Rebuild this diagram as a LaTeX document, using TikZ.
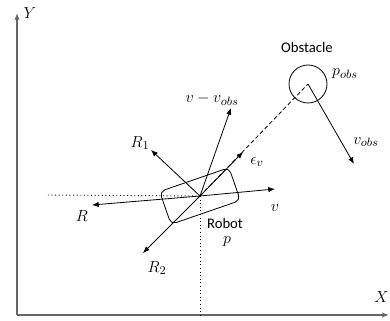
\documentclass[tikz,border=0pt]{standalone}
\usepackage{fontspec}
\setmainfont{Carlito}
\usetikzlibrary{arrows.meta}
\begin{document}
\begin{tikzpicture}[x=0.75pt,y=-0.75pt,line width=0.6pt,
  font=\fontsize{11}{13}\selectfont,
  vec/.style={-{Latex[length=5pt,width=4pt]}},
  axis/.style={black!60,line width=1pt,-{Latex[length=5pt,width=4pt]}},
  guide/.style={dotted,line width=0.7pt},
  mlab/.style={font=\fontsize{12.5}{14}\selectfont}]
  \useasboundingbox (0,0) rectangle (390,321);
  % Axes
  \coordinate (o) at (17,315);
  \coordinate (xend) at (389,315);
  \coordinate (yend) at (17,13);
  \draw[axis] (o) -- (yend);
  \draw[axis] (o) -- (xend);
  \node[mlab] (ylab) at (30,13) {$Y$};
  \node[mlab,anchor=east,inner sep=0] (xlab) at (389,297) {$X$};
  % Robot
  \coordinate (p) at (200,196);
  \node[draw,rounded corners=4pt,rotate=19,minimum width=55pt,minimum height=26pt] (robot) at (p) {};
  \node (robotlab) at (225,223) {Robot};
  \node[mlab] (plab) at (227,242) {$p$};
  % Dotted guides
  \coordinate (hx) at (47,195);
  \draw[guide] (p) -- (hx);
  \draw[guide] (p) -- (p |- o);
  % Obstacle
  \node[draw,circle,minimum size=28.5pt,inner sep=0] (obs) at (308,84) {};
  \node (obslab) at (307,47) {Obstacle};
  \node[mlab] (pobs) at (345,74) {$p_{obs}$};
  \draw[densely dashed] (p) -- (obs.center);
  \coordinate (vo) at (354,164);
  \draw[vec] (obs.center) -- (vo);
  \node[mlab] (volab) at (366,142) {$v_{obs}$};
  % Vectors at the robot
  \coordinate (rtip) at (92,205);
  \coordinate (r1tip) at (151,150);
  \coordinate (r2tip) at (143,253);
  \coordinate (vtip) at (275,189);
  \coordinate (etip) at (243,152);
  \coordinate (reltip) at (231,108);
  \draw[vec] (p) -- (rtip);
  \draw[vec] (p) -- (r1tip);
  \draw[vec] (p) -- (r2tip);
  \draw[vec] (p) -- (vtip);
  \draw[vec] (p) -- (etip);
  \draw[vec] (p) -- (reltip);
  % Labels
  \node[mlab] (rlab) at (82,216) {$R$};
  \node[mlab] (r1lab) at (140,143) {$R_1$};
  \node[mlab] (r2lab) at (157,268) {$R_2$};
  \node[mlab] (vlab) at (275,208) {$v$};
  \node[mlab] (elab) at (257,162) {$\epsilon_v$};
  \node[mlab] (rellab) at (212,99) {$v - v_{obs}$};
\end{tikzpicture}
\end{document}
